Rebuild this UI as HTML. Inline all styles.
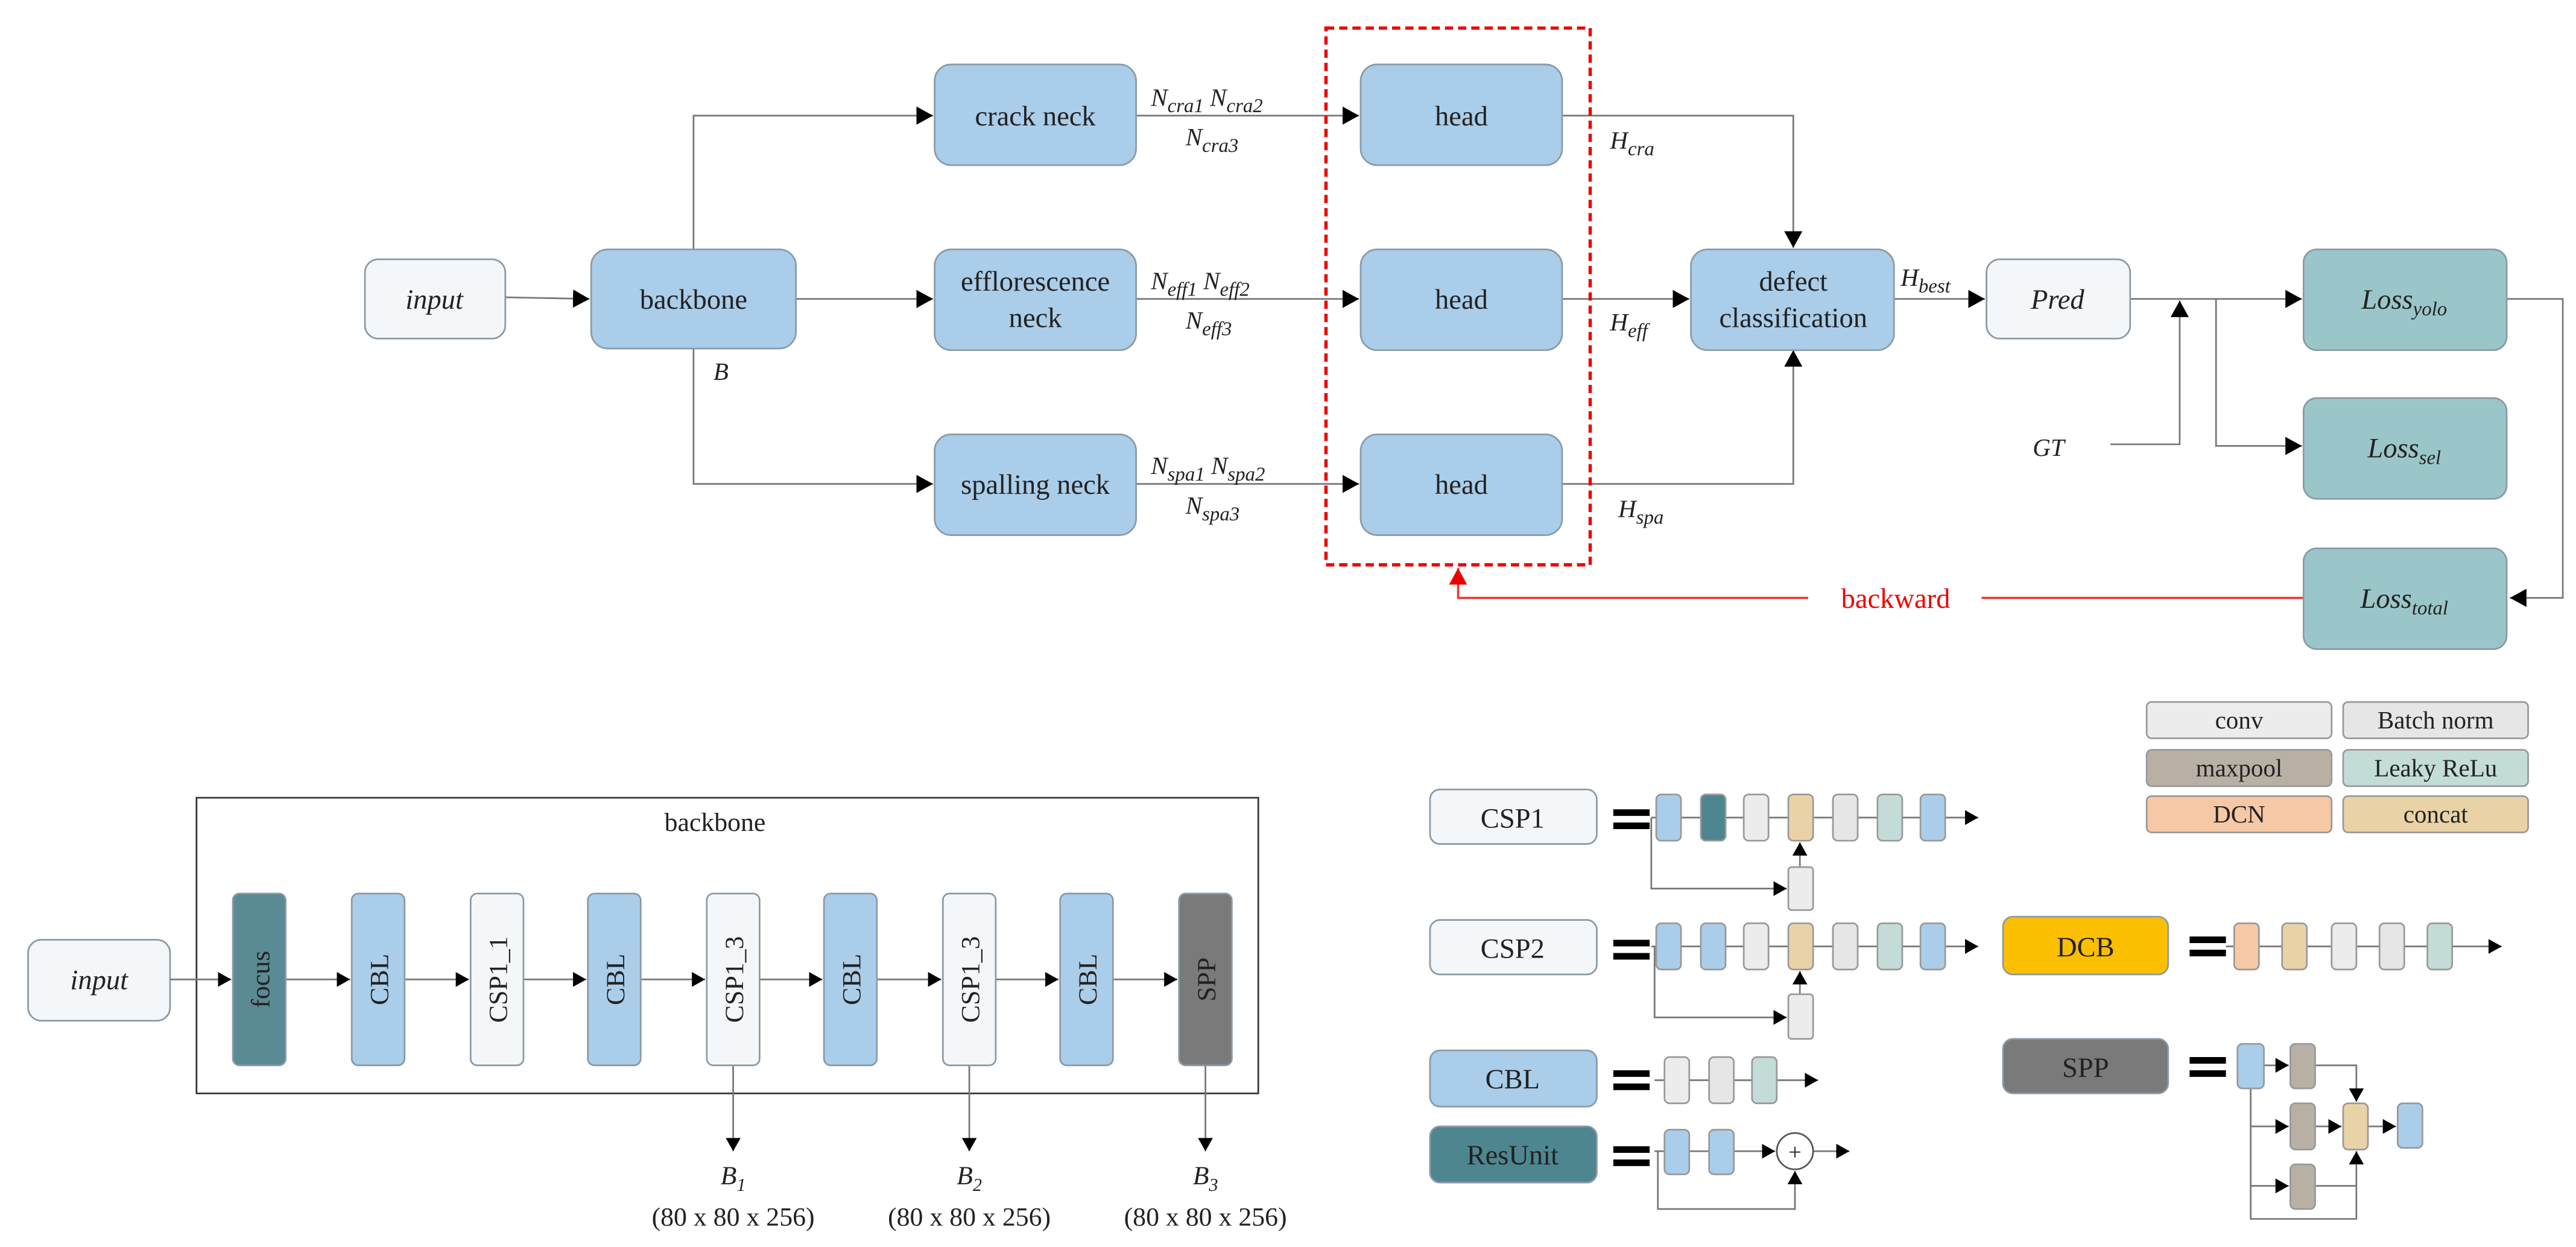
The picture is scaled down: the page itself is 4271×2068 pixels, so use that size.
<!DOCTYPE html>
<html><head><meta charset="utf-8"><style>
html,body{margin:0;padding:0;background:#fff;}
svg{display:block}
text{font-family:"Liberation Serif",serif;fill:#222}
.it{font-style:italic}
</style></head><body>
<svg width="4271" height="2068" viewBox="0 0 1560 755" preserveAspectRatio="none" xmlns="http://www.w3.org/2000/svg" font-family="Liberation Serif, serif">
<defs>
<marker id="a" markerUnits="userSpaceOnUse" markerWidth="10" markerHeight="11" refX="10" refY="5.5" orient="auto"><path d="M0,0 L10,5.5 L0,11 z" fill="#000"/></marker>
<marker id="s" markerUnits="userSpaceOnUse" markerWidth="8" markerHeight="9" refX="8" refY="4.5" orient="auto"><path d="M0,0 L8,4.5 L0,9 z" fill="#000"/></marker>
<marker id="r" markerUnits="userSpaceOnUse" markerWidth="10" markerHeight="11" refX="10" refY="5.5" orient="auto"><path d="M0,0 L10,5.5 L0,11 z" fill="#e00"/></marker>
</defs>
<g stroke="#777" stroke-width="1" fill="none">
<line x1="306" y1="180" x2="357" y2="181" marker-end="url(#a)"/>
<line x1="482" y1="181" x2="565" y2="181" marker-end="url(#a)"/>
<polyline points="420,151 420,70 565,70" marker-end="url(#a)"/>
<polyline points="420,211 420,293 565,293" marker-end="url(#a)"/>
<line x1="688" y1="70" x2="823" y2="70" marker-end="url(#a)"/>
<line x1="688" y1="181" x2="823" y2="181" marker-end="url(#a)"/>
<line x1="688" y1="293" x2="823" y2="293" marker-end="url(#a)"/>
<polyline points="946,70 1086,70 1086,150" marker-end="url(#a)"/>
<line x1="946" y1="181" x2="1023" y2="181" marker-end="url(#a)"/>
<polyline points="946,293 1086,293 1086,212" marker-end="url(#a)"/>
<line x1="1147" y1="181" x2="1202" y2="181" marker-end="url(#a)"/>
<line x1="1290" y1="181" x2="1394" y2="181" marker-end="url(#a)"/>
<polyline points="1342,181 1342,270 1394,270" marker-end="url(#a)"/>
<polyline points="1278,269 1320,269 1320,182" marker-end="url(#a)"/>
<polyline points="1518,181 1552,181 1552,362 1520,362" marker-end="url(#a)"/>
</g>
<g stroke="#e33" stroke-width="1.3" fill="none">
<line x1="1395" y1="362" x2="1200" y2="362"/>
<polyline points="1095,362 883,362 883,344" marker-end="url(#r)"/>
<rect x="803" y="17" width="160" height="325" stroke="#e00" stroke-width="2" stroke-dasharray="5,3"/>
</g>
<text x="1148" y="368" font-size="17" text-anchor="middle" style="fill:#e00">backward</text>
<g stroke="#8a9aa6" stroke-width="1">
<rect x="221" y="157" width="85" height="48" rx="8" fill="#f4f7f9"/>
<rect x="358" y="151" width="124" height="60" rx="10" fill="#aacde9"/>
<rect x="566" y="39" width="122" height="61" rx="10" fill="#aacde9"/>
<rect x="566" y="151" width="122" height="61" rx="10" fill="#aacde9"/>
<rect x="566" y="263" width="122" height="61" rx="10" fill="#aacde9"/>
<rect x="824" y="39" width="122" height="61" rx="10" fill="#aacde9"/>
<rect x="824" y="151" width="122" height="61" rx="10" fill="#aacde9"/>
<rect x="824" y="263" width="122" height="61" rx="10" fill="#aacde9"/>
<rect x="1024" y="151" width="123" height="61" rx="10" fill="#aacde9"/>
<rect x="1203" y="157" width="87" height="48" rx="8" fill="#f4f7f9"/>
<rect x="1395" y="151" width="123" height="61" rx="8" fill="#9bc6c9"/>
<rect x="1395" y="241" width="123" height="61" rx="8" fill="#9bc6c9"/>
<rect x="1395" y="332" width="123" height="61" rx="8" fill="#9bc6c9"/>
</g>
<g font-size="17" text-anchor="middle">
<text x="263" y="187" class="it">input</text>
<text x="420" y="187">backbone</text>
<text x="627" y="76">crack neck</text>
<text x="627" y="176">efflorescence</text>
<text x="627" y="198">neck</text>
<text x="627" y="299">spalling neck</text>
<text x="885" y="76">head</text>
<text x="885" y="187">head</text>
<text x="885" y="299">head</text>
<text x="1086" y="176">defect</text>
<text x="1086" y="198">classification</text>
<text x="1246" y="187" class="it">Pred</text>
<text x="1456" y="187" class="it">Loss<tspan font-size="12" dy="4">yolo</tspan></text>
<text x="1456" y="277" class="it">Loss<tspan font-size="12" dy="4">sel</tspan></text>
<text x="1456" y="368" class="it">Loss<tspan font-size="12" dy="4">total</tspan></text>
</g>
<g font-size="15" class="it">
<text x="432" y="230">B</text>
<text x="697" y="64">N<tspan font-size="12" dy="4">cra1</tspan><tspan dy="-4"> N</tspan><tspan font-size="12" dy="4">cra2</tspan></text>
<text x="718" y="88">N<tspan font-size="12" dy="4">cra3</tspan></text>
<text x="697" y="175">N<tspan font-size="12" dy="4">eff1</tspan><tspan dy="-4"> N</tspan><tspan font-size="12" dy="4">eff2</tspan></text>
<text x="718" y="199">N<tspan font-size="12" dy="4">eff3</tspan></text>
<text x="697" y="287">N<tspan font-size="12" dy="4">spa1</tspan><tspan dy="-4"> N</tspan><tspan font-size="12" dy="4">spa2</tspan></text>
<text x="718" y="311">N<tspan font-size="12" dy="4">spa3</tspan></text>
<text x="975" y="90">H<tspan font-size="12" dy="4">cra</tspan></text>
<text x="975" y="200">H<tspan font-size="12" dy="4">eff</tspan></text>
<text x="980" y="313">H<tspan font-size="12" dy="4">spa</tspan></text>
<text x="1151" y="173">H<tspan font-size="12" dy="4">best</tspan></text>
<text x="1231" y="276">GT</text>
</g>
<rect x="119" y="483" width="643" height="179" fill="none" stroke="#333" stroke-width="1"/>
<text x="433" y="503" font-size="16" text-anchor="middle">backbone</text>
<rect x="17" y="569" width="86" height="49" rx="8" fill="#f4f7f9" stroke="#8a9aa6"/>
<text x="60" y="599" font-size="17" text-anchor="middle" class="it">input</text>
<g stroke="#777" fill="none">
<line x1="103" y1="593" x2="140" y2="593" marker-end="url(#s)"/>
<line x1="173" y1="593" x2="212" y2="593" marker-end="url(#s)"/>
<line x1="245" y1="593" x2="284" y2="593" marker-end="url(#s)"/>
<line x1="317" y1="593" x2="355" y2="593" marker-end="url(#s)"/>
<line x1="388" y1="593" x2="427" y2="593" marker-end="url(#s)"/>
<line x1="460" y1="593" x2="498" y2="593" marker-end="url(#s)"/>
<line x1="531" y1="593" x2="570" y2="593" marker-end="url(#s)"/>
<line x1="603" y1="593" x2="641" y2="593" marker-end="url(#s)"/>
<line x1="674" y1="593" x2="713" y2="593" marker-end="url(#s)"/>
<line x1="444" y1="645" x2="444" y2="697" marker-end="url(#s)"/>
<line x1="587" y1="645" x2="587" y2="697" marker-end="url(#s)"/>
<line x1="730" y1="645" x2="730" y2="697" marker-end="url(#s)"/>
</g>
<g stroke="#8a9aa6">
<rect x="141" y="541" width="32" height="104" rx="4" fill="#5a8a94"/>
<rect x="213" y="541" width="32" height="104" rx="4" fill="#aacde9"/>
<rect x="285" y="541" width="32" height="104" rx="4" fill="#f4f7f9"/>
<rect x="356" y="541" width="32" height="104" rx="4" fill="#aacde9"/>
<rect x="428" y="541" width="32" height="104" rx="4" fill="#f4f7f9"/>
<rect x="499" y="541" width="32" height="104" rx="4" fill="#aacde9"/>
<rect x="571" y="541" width="32" height="104" rx="4" fill="#f4f7f9"/>
<rect x="642" y="541" width="32" height="104" rx="4" fill="#aacde9"/>
<rect x="714" y="541" width="32" height="104" rx="4" fill="#7a7a7a"/>
</g>
<g font-size="16" text-anchor="middle">
<text transform="translate(163,593) rotate(-90)">focus</text>
<text transform="translate(235,593) rotate(-90)">CBL</text>
<text transform="translate(307,593) rotate(-90)">CSP1_1</text>
<text transform="translate(378,593) rotate(-90)">CBL</text>
<text transform="translate(450,593) rotate(-90)">CSP1_3</text>
<text transform="translate(521,593) rotate(-90)">CBL</text>
<text transform="translate(593,593) rotate(-90)">CSP1_3</text>
<text transform="translate(664,593) rotate(-90)">CBL</text>
<text transform="translate(736,593) rotate(-90)">SPP</text>
<text x="444" y="717" class="it">B<tspan font-size="11" dy="4">1</tspan></text>
<text x="587" y="717" class="it">B<tspan font-size="11" dy="4">2</tspan></text>
<text x="730" y="717" class="it">B<tspan font-size="11" dy="4">3</tspan></text>
<text x="444" y="742">(80 x 80 x 256)</text>
<text x="587" y="742">(80 x 80 x 256)</text>
<text x="730" y="742">(80 x 80 x 256)</text>
</g>
<g stroke="#999">
<rect x="1300" y="425" width="112" height="22" rx="3" fill="#ececec"/>
<rect x="1419" y="425" width="112" height="22" rx="3" fill="#e6e6e6"/>
<rect x="1300" y="454" width="112" height="22" rx="3" fill="#b8b0a5"/>
<rect x="1419" y="454" width="112" height="22" rx="3" fill="#c3dcd8"/>
<rect x="1300" y="482" width="112" height="22" rx="3" fill="#f7c8a6"/>
<rect x="1419" y="482" width="112" height="22" rx="3" fill="#e9d3a6"/>
</g>
<g font-size="15" text-anchor="middle">
<text x="1356" y="441">conv</text><text x="1475" y="441">Batch norm</text>
<text x="1356" y="470">maxpool</text><text x="1475" y="470">Leaky ReLu</text>
<text x="1356" y="498">DCN</text><text x="1475" y="498">concat</text>
</g>
<g stroke="#8a9aa6">
<rect x="866" y="478" width="101" height="33" rx="6" fill="#f4f7f9"/>
<rect x="866" y="557" width="101" height="33" rx="6" fill="#f4f7f9"/>
<rect x="866" y="636" width="101" height="34" rx="6" fill="#aacde9"/>
<rect x="866" y="682" width="101" height="34" rx="6" fill="#4e8690"/>
<rect x="1213" y="555" width="100" height="35" rx="6" fill="#fbbf00"/>
<rect x="1213" y="629" width="100" height="33" rx="6" fill="#7a7a7a"/>
</g>
<g font-size="17" text-anchor="middle">
<text x="916" y="501">CSP1</text><text x="916" y="580">CSP2</text>
<text x="916" y="659">CBL</text><text x="916" y="705">ResUnit</text>
<text x="1263" y="579">DCB</text><text x="1263" y="652">SPP</text>
</g>
<g fill="#000">
<rect x="977" y="490" width="22" height="4"/><rect x="977" y="498" width="22" height="4"/>
<rect x="977" y="569" width="22" height="4"/><rect x="977" y="577" width="22" height="4"/>
<rect x="977" y="648" width="22" height="4"/><rect x="977" y="656" width="22" height="4"/>
<rect x="977" y="694" width="22" height="4"/><rect x="977" y="702" width="22" height="4"/>
<rect x="1326" y="567" width="22" height="4"/><rect x="1326" y="575" width="22" height="4"/>
<rect x="1326" y="640" width="22" height="4"/><rect x="1326" y="648" width="22" height="4"/>
</g>
<g stroke="#777" fill="none">
<line x1="1000" y1="495" x2="1198" y2="495" marker-end="url(#s)"/>
<polyline points="1000,495 1000,538 1082,538" marker-end="url(#s)"/>
<line x1="1090" y1="525" x2="1090" y2="510" marker-end="url(#s)"/>
<line x1="1000" y1="573" x2="1198" y2="573" marker-end="url(#s)"/>
<polyline points="1002,573 1002,616 1082,616" marker-end="url(#s)"/>
<line x1="1090" y1="602" x2="1090" y2="588" marker-end="url(#s)"/>
<line x1="1348" y1="573" x2="1515" y2="573" marker-end="url(#s)"/>
<line x1="1002" y1="654" x2="1101" y2="654" marker-end="url(#s)"/>
<line x1="1002" y1="697" x2="1075" y2="697" marker-end="url(#s)"/>
<line x1="1098" y1="697" x2="1120" y2="697" marker-end="url(#s)"/>
<polyline points="1004,697 1004,732 1087,732 1087,709" marker-end="url(#s)"/>
<line x1="1371" y1="645" x2="1386" y2="645" marker-end="url(#s)"/>
<polyline points="1402,645 1427,645 1427,667" marker-end="url(#s)"/>
<polyline points="1363,659 1363,738 1427,738 1427,697" marker-end="url(#s)"/>
<line x1="1363" y1="682" x2="1386" y2="682" marker-end="url(#s)"/>
<line x1="1363" y1="718" x2="1386" y2="718" marker-end="url(#s)"/>
<line x1="1402" y1="682" x2="1418" y2="682" marker-end="url(#s)"/>
<line x1="1434" y1="682" x2="1451" y2="682" marker-end="url(#s)"/>
<line x1="1402" y1="718" x2="1427" y2="718"/>
</g>
<circle cx="1087" cy="697" r="11" fill="#fff" stroke="#555"/>
<text x="1087" y="702" font-size="14" text-anchor="middle">+</text>
<g stroke="#999">
<rect x="1003" y="481" width="15" height="28" rx="3" fill="#aacde9"/>
<rect x="1030" y="481" width="15" height="28" rx="3" fill="#4e8690"/>
<rect x="1056" y="481" width="15" height="28" rx="3" fill="#ececec"/>
<rect x="1083" y="481" width="15" height="28" rx="3" fill="#e9d3a6"/>
<rect x="1110" y="481" width="15" height="28" rx="3" fill="#e6e6e6"/>
<rect x="1137" y="481" width="15" height="28" rx="3" fill="#c3dcd8"/>
<rect x="1163" y="481" width="15" height="28" rx="3" fill="#aacde9"/>
<rect x="1083" y="525" width="15" height="26" rx="2" fill="#ececec"/>
<rect x="1003" y="559" width="15" height="28" rx="3" fill="#aacde9"/>
<rect x="1030" y="559" width="15" height="28" rx="3" fill="#aacde9"/>
<rect x="1056" y="559" width="15" height="28" rx="3" fill="#ececec"/>
<rect x="1083" y="559" width="15" height="28" rx="3" fill="#e9d3a6"/>
<rect x="1110" y="559" width="15" height="28" rx="3" fill="#e6e6e6"/>
<rect x="1137" y="559" width="15" height="28" rx="3" fill="#c3dcd8"/>
<rect x="1163" y="559" width="15" height="28" rx="3" fill="#aacde9"/>
<rect x="1083" y="602" width="15" height="27" rx="2" fill="#ececec"/>
<rect x="1353" y="559" width="15" height="28" rx="3" fill="#f7c8a6"/>
<rect x="1382" y="559" width="15" height="28" rx="3" fill="#e9d3a6"/>
<rect x="1412" y="559" width="15" height="28" rx="3" fill="#ececec"/>
<rect x="1441" y="559" width="15" height="28" rx="3" fill="#e6e6e6"/>
<rect x="1470" y="559" width="15" height="28" rx="3" fill="#c3dcd8"/>
<rect x="1008" y="640" width="15" height="28" rx="3" fill="#ececec"/>
<rect x="1035" y="640" width="15" height="28" rx="3" fill="#e6e6e6"/>
<rect x="1061" y="640" width="15" height="28" rx="3" fill="#c3dcd8"/>
<rect x="1008" y="684" width="15" height="27" rx="3" fill="#aacde9"/>
<rect x="1035" y="684" width="15" height="27" rx="3" fill="#aacde9"/>
<rect x="1355" y="632" width="16" height="27" rx="3" fill="#aacde9"/>
<rect x="1387" y="632" width="15" height="27" rx="3" fill="#b8b0a5"/>
<rect x="1387" y="668" width="15" height="28" rx="3" fill="#b8b0a5"/>
<rect x="1387" y="705" width="15" height="27" rx="3" fill="#b8b0a5"/>
<rect x="1419" y="668" width="15" height="28" rx="3" fill="#e9d3a6"/>
<rect x="1452" y="668" width="15" height="27" rx="3" fill="#aacde9"/>
</g>
</svg>
</body></html>
